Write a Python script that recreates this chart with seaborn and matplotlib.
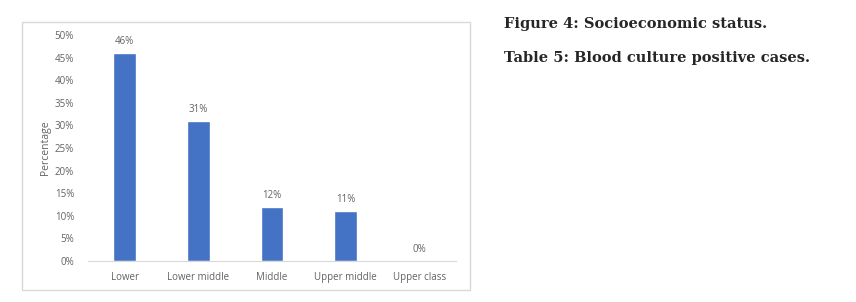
import matplotlib
matplotlib.use("Agg")
import matplotlib.pyplot as plt
import seaborn as sns
import pandas as pd
from matplotlib.patches import Rectangle

# data
categories = ["Lower", "Lower middle", "Middle", "Upper middle", "Upper class"]
percent = [46, 31, 12, 11, 0]
value_labels = ["46%", "31%", "12%", "11%", "0%"]
y_ticks = [0, 5, 10, 15, 20, 25, 30, 35, 40, 45, 50]

df = pd.DataFrame({"status": categories, "pct": percent})

sns.set_style("white")
plt.rcParams["font.family"] = ["Open Sans", "DejaVu Sans"]

grey = "#636363"
fig = plt.figure(figsize=(8.56, 3.02), dpi=100)
ax = fig.add_axes([88 / 856, 1 - 261 / 302, 368 / 856, 226 / 302])

sns.barplot(data=df, x="status", y="pct", color="#4472C4", width=0.31,
            saturation=1, ax=ax)

ax.set_ylim(0, 50)
ax.set_yticks(y_ticks)
ax.set_yticklabels([f"{t}%" for t in y_ticks], fontsize=7, color=grey)
ax.tick_params(axis="x", labelsize=7, colors=grey, length=0, pad=8)
ax.tick_params(axis="y", length=0, pad=10)
ax.set_xlabel("")
ax.set_ylabel("Percentage", fontsize=7.5, color=grey, labelpad=3)

for s in ["top", "right", "left"]:
    ax.spines[s].set_visible(False)
ax.spines["bottom"].set_color("#d9d9d9")
ax.spines["bottom"].set_linewidth(0.8)

for bar, lab in zip(ax.patches, value_labels):
    h = bar.get_height()
    ax.text(bar.get_x() + bar.get_width() / 2, h + 1.3, lab, ha="center",
            va="bottom", fontsize=7, color=grey)

# frame around the chart
fig.patches.append(Rectangle((22 / 856, 1 - 290 / 302), 448 / 856, 268 / 302,
                             transform=fig.transFigure, fill=False,
                             edgecolor="#d9d9d9", linewidth=1))

fig.text(504 / 856, 1 - 24 / 302, "Figure 4: Socioeconomic status.",
         family="DejaVu Serif", weight="bold", fontsize=10.5, va="center")
fig.text(504 / 856, 1 - 58 / 302, "Table 5: Blood culture positive cases.",
         family="DejaVu Serif", weight="bold", fontsize=10.5, va="center")

fig.savefig("out.png", dpi=100)
